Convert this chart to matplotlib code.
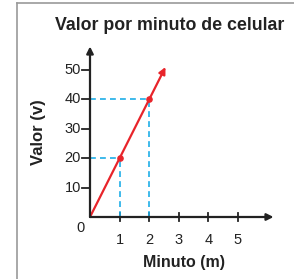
import matplotlib
matplotlib.use("Agg")
import matplotlib.pyplot as plt
from matplotlib.lines import Line2D

# data
minutes = [0, 1, 2]
values = [0, 20, 40]
marked_x = [1, 2]
marked_y = [20, 40]
line_end = (2.55, 51)
x_ticks = [1, 2, 3, 4, 5]
y_ticks = [10, 20, 30, 40, 50]

plt.rcParams['font.family'] = ['Liberation Sans', 'DejaVu Sans']
INK = '#222222'

W, H = 294, 279
fig = plt.figure(figsize=(W / 100, H / 100), dpi=100)

# pixel layout: origin at (90, 217), 29.6 px per minute, 2.94 px per unit value
ox, oy = 90, 217
xmax, ymax = 6.2, 58
ax = fig.add_axes([ox / W, (H - oy) / H, xmax * 29.6 / W, ymax * 2.94 / H])
ax.set_xlim(0, xmax)
ax.set_ylim(0, ymax)
ax.axis('off')

# frame of the page
fig.add_artist(Line2D([17 / W, 17 / W], [0, 1 - 3 / H], color='#9a9a9a', lw=1.2))
fig.add_artist(Line2D([17 / W, 1], [1 - 3 / H, 1 - 3 / H], color='#9a9a9a', lw=1.2))

# axes with arrows
arrow = dict(arrowstyle='-|>', color=INK, lw=1.6, mutation_scale=10, shrinkA=0, shrinkB=0)
ax.annotate('', xy=(xmax, 0), xytext=(0, 0), arrowprops=arrow, annotation_clip=False)
ax.annotate('', xy=(0, ymax), xytext=(0, 0), arrowprops=arrow, annotation_clip=False)

# ticks
for t in x_ticks:
    ax.plot([t, t], [-1.3, 1.3], color=INK, lw=1.3, clip_on=False)
    ax.text(t, -5.5, str(t), ha='center', va='top', fontsize=10.5, color=INK)
for t in y_ticks:
    ax.plot([-0.27, 0], [t, t], color=INK, lw=1.3, clip_on=False)
    ax.text(-0.3, t, str(t), ha='right', va='center', fontsize=10.5, color=INK)
ax.text(-0.17, -1.5, '0', ha='right', va='top', fontsize=10.5, color=INK)

# dashed guides
for x, y in zip(marked_x, marked_y):
    ax.plot([0, x], [y, y], color='#1eaee8', lw=1.2, ls=(0, (3.5, 2.5)), clip_on=False)
    ax.plot([x, x], [0, y], color='#1eaee8', lw=1.2, ls=(0, (3.5, 2.5)), clip_on=False)

# red line with arrow
ax.plot(minutes, values, color='#e8242a', lw=1.6, solid_capstyle='butt')
ax.annotate('', xy=line_end, xytext=(minutes[-1], values[-1]),
            arrowprops=dict(arrow, color='#e8242a'), annotation_clip=False)
ax.scatter(marked_x, marked_y, s=14, color='#e8242a', zorder=5)

# labels
fig.text(170 / W, 1 - 25 / H, 'Valor por minuto de celular', ha='center', va='center',
         fontsize=12.8, fontweight='bold', color=INK)
fig.text(184 / W, 1 - 262 / H, 'Minuto (m)', ha='center', va='center',
         fontsize=11.5, fontweight='bold', color=INK)
fig.text(38 / W, 1 - 132 / H, 'Valor (v)', ha='center', va='center', rotation=90,
         fontsize=12, fontweight='bold', color=INK)

fig.savefig('out.png', dpi=100)
